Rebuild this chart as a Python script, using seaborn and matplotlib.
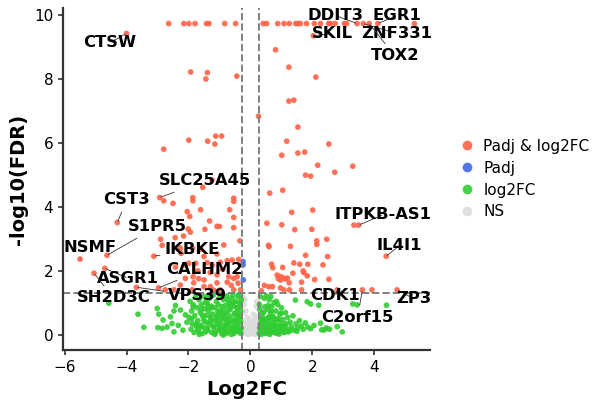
import numpy as np
import pandas as pd
import seaborn as sns
import matplotlib.pyplot as plt

# ==================
# data (log2FC, -log10(FDR))

# significant by both FDR and fold change
red_x = [-2.64, -2.15, -1.99, -1.79, -1.42, -1.34, -0.83, -0.48, 0.41, 0.52, 0.88, 1.08,
         1.25, 1.46, 1.53, 1.61, 1.81, 2.06, 2.26, 2.52, 2.58, 2.73, 3.03, 3.10, 3.44, 3.64,
         3.83, 4.11, 5.29,
         -4.00, 2.03, -1.93, -1.39, -1.44, -0.44, 0.26, -1.99, -1.38, -1.12, -0.93, -1.15,
         -2.80, -1.54, -1.24, -1.86, -0.54,
         0.81, 1.24, 2.11, 1.24, 1.40, 1.53, 1.17, 2.53, 1.01, 1.53, 1.75, 2.17, 3.30, 2.72,
         1.78, 1.94, 0.62, 1.04,
         1.33, 2.01, 0.53, 1.01, 1.43, 1.98, 2.46, 2.14, 2.14, 0.58, 0.60, 1.29, 1.78, 2.49,
         1.40, 1.59, 1.85, 0.68, 0.72, 1.04, 1.70, 1.72, 2.34, 1.37, 1.83, 0.86, 0.95, 1.03,
         0.90, 0.97, 1.12, 1.19, 2.07, 2.53, 1.25, 1.65, 0.59, 0.71, 0.97, 1.08, 1.26, 1.65,
         2.80, 3.61, 3.92, 4.73, 3.34, 3.49, 4.38, 0.35, 0.45,
         -2.93, -2.80, -2.50, -1.86, -0.54, -2.04, -1.96, -1.32, -1.08, -1.00, -0.54, -0.67,
         -1.61, -2.01, -1.94, -2.16, -1.47, -2.90, -2.85, -2.43, -2.26, -2.24, -1.87, -1.61,
         -1.50, -1.08, -0.86, -0.34, -0.54, -0.97, -0.75, -0.59, -0.38, -1.40, -1.24, -1.77,
         -1.99, -2.12, -2.42, -2.10, -1.85, -1.67, -1.50, -1.08, -0.70, -0.54, -0.43, -0.32,
         -0.54, -0.97, -1.29, -1.83, -2.26, -2.47, -0.75, -1.08, -1.50, -1.88, -1.30, -0.90,
         -0.62, -1.70, -1.18, -0.40,
         -4.30, -4.63, -5.50, -3.12, -4.70, -5.05, -2.97, -3.68, -2.75]
red_y = [9.72] * 29 + \
        [9.41, 9.34, 8.21, 8.19, 7.99, 8.08, 6.83, 6.08, 6.05, 6.21, 6.21, 5.96,
         5.80, 4.61, 4.84, 4.29, 4.27,
         8.90, 8.36, 8.05, 7.30, 7.33, 6.49, 6.05, 5.96, 5.61, 5.68, 5.71, 5.30, 5.27, 5.08,
         4.99, 4.96, 4.43, 4.52,
         3.83, 3.90, 3.49, 3.44, 3.29, 3.30, 2.99, 2.94, 2.83, 2.80, 2.76, 2.77, 2.49, 2.45,
         2.25, 2.21, 2.21, 2.21, 2.10, 2.11, 2.00, 1.95, 2.19, 1.93, 1.85, 1.87, 1.83, 1.80,
         1.76, 1.72, 1.75, 1.78, 1.73, 1.74, 1.63, 1.65, 1.51, 1.51, 1.47, 1.41, 1.41, 1.41,
         1.41, 1.41, 1.41, 1.41, 3.43, 3.43, 2.46, 1.38, 1.55,
         4.29, 4.19, 4.11, 4.19, 4.17, 3.85, 3.70, 3.56, 3.39, 3.39, 3.67, 3.91,
         3.91, 3.31, 3.21, 3.09, 3.30, 2.99, 2.80, 3.04, 2.71, 2.55, 2.71, 2.68,
         2.45, 2.53, 2.81, 2.94, 3.35, 2.27, 2.32, 2.34, 2.36, 2.26, 2.18, 2.24,
         2.24, 2.20, 2.12, 1.77, 1.82, 1.76, 1.72, 1.88, 1.82, 1.77, 1.82, 1.41,
         1.41, 1.41, 1.51, 1.63, 1.56, 1.41, 1.65, 1.63, 1.51, 1.41, 1.95, 2.05,
         1.55, 2.00, 1.40, 1.62,
         3.51, 2.49, 2.37, 2.46, 2.08, 1.93, 1.47, 1.49, 1.41]

# significant by FDR only
blue_x = [-0.24, -0.24, -0.23]
blue_y = [2.29, 2.19, 1.72]

# fold change only
green_x = [-4.57, -3.63, -3.44, -3.01, -2.96, -2.99, -2.85, -2.82, -2.69, -2.58, -2.53, -2.47,
           -2.47, -2.42, -2.26, -2.10, -2.33, -2.18, -2.05,
           -1.98, -1.95, -1.92, -1.90, -1.88, -1.85, -1.82, -1.80, -1.78, -1.76, -1.72, -1.70,
           -1.68, -1.66, -1.62, -1.60, -1.58, -1.55, -1.52, -1.50, -1.48, -1.47, -1.44, -1.42,
           -1.40, -1.38, -1.35, -1.33, -1.32, -1.28, -1.26, -1.25, -1.22, -1.20, -1.18, -1.16,
           -1.13, -1.12, -1.10, -1.07, -1.05, -1.04, -1.01, -0.99, -0.98, -0.95, -0.93, -0.92,
           -0.90, -0.88, -0.87, -0.84, -0.82, -0.81, -0.78, -0.76, -0.75, -0.72, -0.71, -0.70,
           -0.67, -0.66, -0.64, -0.61, -0.60, -0.58, -0.55, -0.54, -0.52, -0.50, -0.49, -0.47,
           -0.45, -0.44, -0.41, -0.40, -0.38, -0.36, -0.35, -0.32, -0.31, -0.30, -0.29,
           -1.65, -1.45, -1.15, -0.85, -0.62, -0.42, -1.75, -1.30, -1.02, -0.73, -0.57, -0.34,
           -1.55, -1.10, -0.80, -0.48, -1.90, -1.36, -0.96, -0.68, -0.39,
           -1.60, -1.40, -1.20, -1.00, -0.80, -0.60, -0.45, -0.33, -1.50, -1.30, -1.10, -0.90,
           -0.70, -0.52, -0.37, -1.70, -1.25, -0.85, -0.65, -0.43, -1.45, -1.05, -0.75, -0.55,
           -0.35, -1.85, -1.35, -0.95, -0.58, -0.40, -1.15, -0.78, -0.50, -0.31, -1.58, -0.88,
           0.28, 0.30, 0.31, 0.33, 0.34, 0.36, 0.37, 0.39, 0.40, 0.42, 0.43, 0.45, 0.46, 0.48,
           0.50, 0.51, 0.53, 0.55, 0.56, 0.58, 0.60, 0.62, 0.63, 0.65, 0.67, 0.69, 0.71, 0.73,
           0.74, 0.76, 0.78, 0.80, 0.82, 0.84, 0.86, 0.88, 0.90, 0.92, 0.95, 0.97, 1.00, 1.02,
           1.05, 1.08, 1.10, 1.13, 1.16, 1.20, 1.24, 1.28, 1.32, 1.37, 1.42, 1.47, 1.52, 1.58,
           1.64, 1.70, 1.77, 1.85, 1.94, 2.05,
           0.35, 0.48, 0.62, 0.78, 0.93, 1.12, 0.40, 0.55, 0.70, 0.86, 1.03, 0.32, 0.45, 0.66,
           0.30, 0.52,
           0.33, 0.44, 0.58, 0.72, 0.88, 1.05, 1.22, 0.38, 0.50, 0.64, 0.80, 0.96, 1.15, 0.36,
           0.47, 0.60, 0.75, 0.91, 1.30, 0.42, 0.68, 0.99, 1.50, 0.29, 0.57, 0.84,
           1.45, 1.83, 1.94, 2.20, 2.26, 2.30, 2.38, 2.80, 2.96, 3.30, 3.44, 4.39, 2.55, 2.45]
green_y = [0.99, 0.65, 0.24, 0.83, 0.65, 0.23, 0.21, 0.47, 0.25, 0.57, 0.36, 0.10,
           0.75, 0.92, 0.78, 0.63, 0.30, 0.15, 0.40,
           0.55, 1.05, 0.18, 0.75, 0.35, 0.95, 0.08, 0.60, 1.18, 0.28, 0.85, 0.45,
           0.12, 1.10, 0.70, 0.30, 0.95, 0.05, 0.55, 1.20, 0.22, 0.82, 0.40, 0.62,
           1.00, 0.15, 0.75, 0.32, 1.15, 0.50, 0.90, 0.08, 0.65, 1.25, 0.28, 0.45,
           0.85, 0.12, 1.05, 0.58, 0.35, 0.95, 0.20, 0.75, 1.18, 0.45, 0.05, 0.88,
           0.30, 0.65, 1.10, 0.15, 0.52, 0.92, 0.38, 1.22, 0.70, 0.10, 0.48, 1.00,
           0.25, 0.80, 0.58, 0.15, 1.12, 0.42, 0.90, 0.05, 0.68, 0.28, 1.05, 0.50,
           0.18, 0.85, 0.35, 1.20, 0.60, 0.10, 0.95, 0.40, 0.75, 0.22, 1.10,
           0.02, 0.10, 0.02, 0.20, 0.02, 0.12, 0.35, 0.40, 0.30, 0.35, 0.25, 0.50,
           0.62, 0.55, 0.60, 0.65, 0.50, 0.90, 0.65, 0.85, 0.85,
           0.25, 0.20, 0.25, 0.15, 0.25, 0.20, 0.28, 0.15, 0.45, 0.58, 0.48, 0.55,
           0.40, 0.45, 0.58, 0.18, 0.85, 0.78, 0.95, 0.72, 1.02, 0.72, 1.12, 1.00,
           1.02, 0.88, 1.20, 1.25, 1.22, 1.25, 0.05, 0.05, 0.12, 0.05, 0.80, 0.00,
           0.05, 0.22, 0.35, 0.12, 0.48, 0.25, 0.58, 0.32, 0.70, 0.08, 0.42, 0.15, 0.88, 0.22,
           0.50, 0.08, 0.35, 0.80, 0.18, 0.55, 1.10, 0.05, 0.42, 0.68, 0.15, 0.90, 0.30, 0.58,
           0.10, 1.02, 0.40, 0.22, 0.75, 0.05, 0.50, 0.95, 0.28, 0.12, 0.65, 0.38, 0.85, 0.18,
           0.48, 0.08, 0.30, 0.70, 0.20, 0.55, 0.12, 0.40, 0.25, 0.60, 0.15, 0.35, 0.22, 0.45,
           0.28, 0.18, 0.38, 0.25, 0.20, 0.30,
           0.02, 0.05, 0.02, 0.08, 0.03, 0.10, 0.22, 0.25, 0.15, 0.18, 0.25, 1.20, 1.15, 1.20,
           0.80, 1.22,
           0.15, 0.12, 0.10, 0.14, 0.12, 0.18, 0.10, 0.30, 0.28, 0.32, 0.30, 0.28, 0.35, 0.52,
           0.48, 0.55, 0.52, 0.50, 0.15, 0.70, 0.75, 0.68, 0.12, 0.95, 0.92, 1.05,
           1.09, 1.04, 0.97, 0.93, 0.37, 0.16, 0.16, 0.26, 0.10, 0.97, 0.94, 0.93, 0.18, 0.22]

# not significant
grey_x = [-0.25, -0.22, -0.20, -0.18, -0.16, -0.14, -0.12, -0.10, -0.08, -0.06, -0.04, -0.02,
          0.00, 0.02, 0.04, 0.06, 0.08, 0.10, 0.12, 0.14, 0.16, 0.18, 0.20, 0.22, 0.24,
          -0.21, -0.15, -0.09, -0.03, 0.03, 0.09, 0.15, 0.21, -0.18, -0.06, 0.06, 0.18,
          -0.12, 0.00, 0.12, -0.20, 0.20, -0.24, 0.23, -0.10, 0.10]
grey_y = [0.45, 0.10, 0.70, 0.25, 0.05, 0.40, 0.15, 0.55, 0.08, 0.30, 0.12, 0.02,
          0.20, 0.05, 0.35, 0.10, 0.25, 0.45, 0.08, 0.18, 0.60, 0.30, 0.12, 0.50, 0.85,
          0.95, 0.75, 0.35, 0.50, 0.08, 0.65, 0.02, 0.30, 1.10, 0.15, 0.40, 0.90,
          0.28, 0.38, 0.05, 0.20, 1.05, 1.20, 0.15, 0.02, 0.22]

group_names = ['Padj & log2FC', 'Padj', 'log2FC', 'NS']
group_colours = ['#FF6347', '#4169E1', '#32CD32', '#DCDCDC']

# labelled genes: name, point, text position (left edge, centre)
gene_labels = ['CTSW', 'DDIT3', 'EGR1', 'SKIL', 'ZNF331', 'TOX2', 'SLC25A45', 'CST3',
               'S1PR5', 'NSMF', 'IKBKE', 'CALHM2', 'ASGR1', 'SH2D3C', 'VPS39',
               'ITPKB-AS1', 'IL4I1', 'CDK1', 'C2orf15', 'ZP3']
gene_x = [-4.00, 3.44, 4.11, 2.03, 3.64, 3.83, -2.93, -4.30, -4.63, -5.50, -3.12, -2.97,
          -4.70, -5.05, -3.68, 3.49, 4.38, 2.80, 3.61, 4.73]
gene_y = [9.41, 9.72, 9.72, 9.34, 9.72, 9.72, 4.29, 3.51, 2.49, 2.37, 2.46, 1.47,
          2.08, 1.93, 1.49, 3.43, 2.46, 1.41, 1.41, 1.41]
text_x = [-5.39, 1.84, 3.94, 1.97, 3.58, 3.87, -2.97, -4.74, -3.97, -6.03, -2.77, -2.71,
          -4.97, -5.61, -2.65, 2.71, 4.06, 1.94, 2.29, 4.71]
text_y = [9.13, 9.97, 9.97, 9.41, 9.41, 8.72, 4.81, 4.22, 3.38, 2.72, 2.66, 2.06,
          1.78, 1.16, 1.22, 3.75, 2.78, 1.22, 0.56, 1.13]

fc_cut = 0.263
fdr_cut = 1.301

# ===================
# tidy into one frame
df = pd.concat([
    pd.DataFrame({'log2FC': red_x, 'nlp': red_y, 'group': 'Padj & log2FC'}),
    pd.DataFrame({'log2FC': blue_x, 'nlp': blue_y, 'group': 'Padj'}),
    pd.DataFrame({'log2FC': green_x, 'nlp': green_y, 'group': 'log2FC'}),
    pd.DataFrame({'log2FC': grey_x, 'nlp': grey_y, 'group': 'NS'}),
], ignore_index=True)

# draw NS first so it sits underneath
df['group'] = pd.Categorical(df['group'], categories=group_names)
df = df.sort_values('group', ascending=False)

sns.set_style('ticks')
plt.rcParams['font.family'] = ['DejaVu Sans']
plt.rcParams['text.color'] = 'black'
plt.rcParams['axes.labelcolor'] = 'black'
plt.rcParams['xtick.color'] = 'black'
plt.rcParams['ytick.color'] = 'black'

fig = plt.figure(figsize=(6, 4.09), dpi=100)
ax = fig.add_axes([0.105, 0.144, 0.612, 0.836])

sns.scatterplot(data=df, x='log2FC', y='nlp', hue='group', hue_order=group_names,
                palette=group_colours, s=17, linewidth=0, alpha=0.9, ax=ax)

ax.axvline(-fc_cut, color='grey', ls='--', lw=1.4)
ax.axvline(fc_cut, color='grey', ls='--', lw=1.4)
ax.axhline(fdr_cut, color='grey', ls='--', lw=1.4)

for name, gx, gy, tx, ty in zip(gene_labels, gene_x, gene_y, text_x, text_y):
    ax.annotate(name, xy=(gx, gy), xytext=(tx, ty), ha='left', va='center',
                fontsize=11.8, fontweight='bold', color='black',
                arrowprops=dict(arrowstyle='-', color='#333333', lw=0.6,
                                shrinkA=1, shrinkB=1))

ax.set_xlim(-6.05, 5.8)
ax.set_ylim(-0.47, 10.2)
ax.set_xticks([-6, -4, -2, 0, 2, 4])
ax.set_yticks([0, 2, 4, 6, 8, 10])
ax.tick_params(labelsize=11, width=1.2, color='#333333', labelcolor='black')
ax.set_xlabel('Log2FC', fontsize=14, fontweight='bold')
ax.set_ylabel('-log10(FDR)', fontsize=14, fontweight='bold')
for side in ['left', 'bottom']:
    ax.spines[side].set_linewidth(1.6)
    ax.spines[side].set_color('#333333')
sns.despine(ax=ax)

sns.move_legend(ax, loc='center left', bbox_to_anchor=(1.02, 0.5), frameon=False,
                title=None, fontsize=11, markerscale=1.7, handletextpad=0.1,
                labelspacing=0.45)

plt.savefig('out.png', dpi=100)
